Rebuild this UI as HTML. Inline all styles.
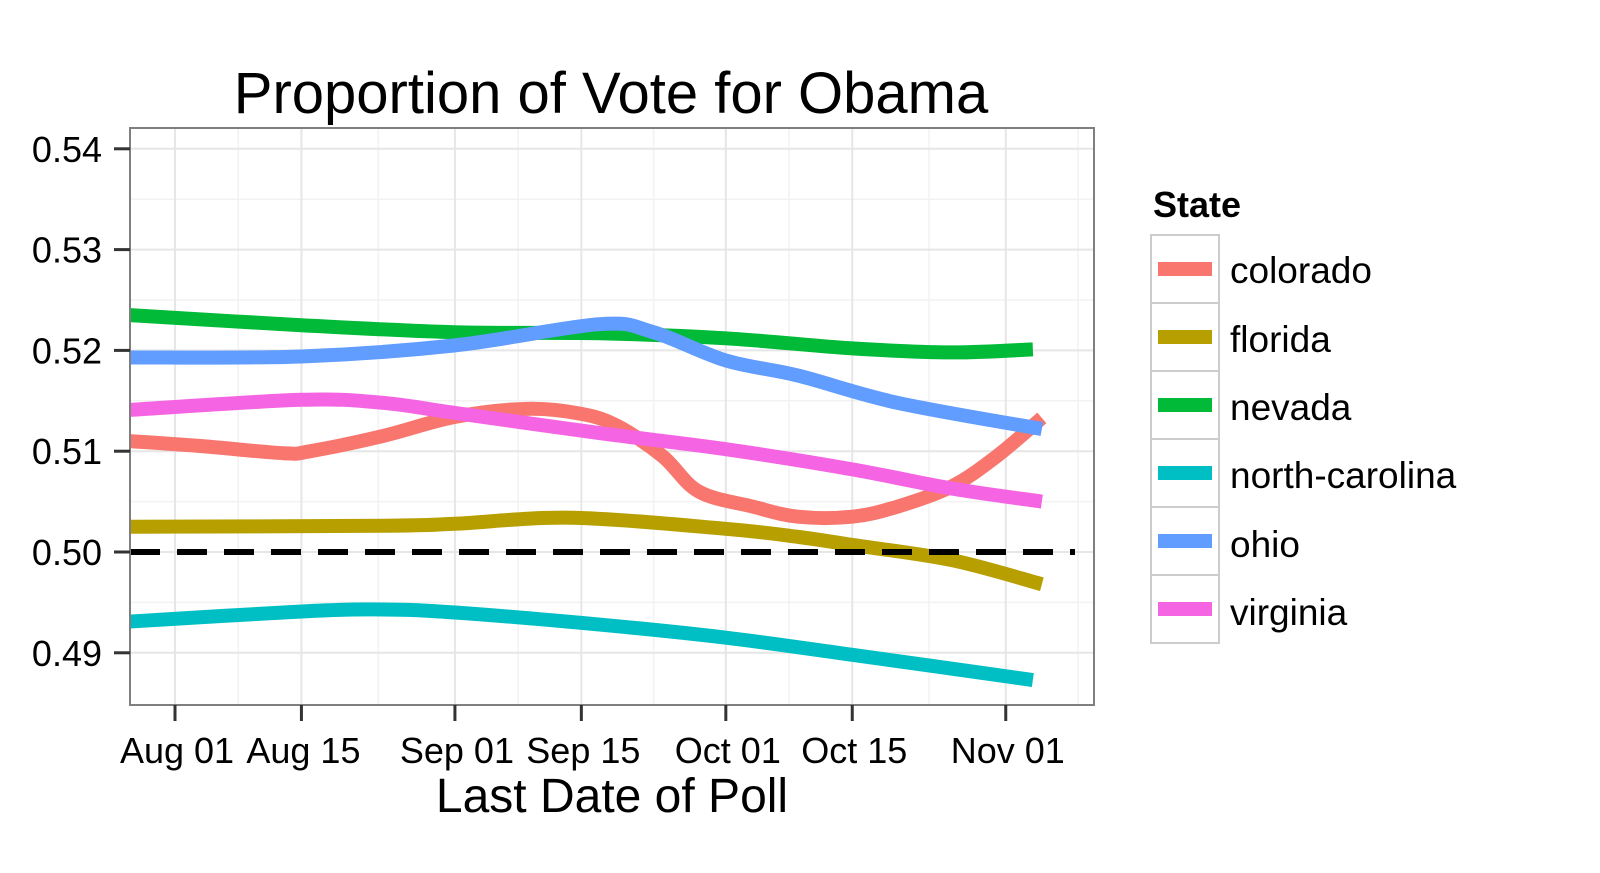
<!DOCTYPE html>
<html><head><meta charset="utf-8"><style>
body{margin:0;background:#fff;}
svg{display:block;font-family:"Liberation Sans",Arial,sans-serif;}
</style></head><body>
<svg id="chart" width="1600" height="873"></svg>
<script>
const tickDays=[0,14,31,45,61,75,92];
const tickLabels=["Aug 01","Aug 15","Sep 01","Sep 15","Oct 01","Oct 15","Nov 01"];
const yTicks=[0.49,0.50,0.51,0.52,0.53,0.54];
const seriesNames=["colorado","florida","nevada","north-carolina","ohio","virginia"];
const seriesColors=["#F8766D","#B79F00","#00BA38","#00BFC4","#619CFF","#F564E3"];
const coloradoDays=[-5,3,12,15,23,31,39,45,49,54,58,64,69,75,80,86,91,96];
const coloradoVals=[0.511,0.5105,0.5098,0.510,0.5115,0.5134,0.5142,0.5137,0.5125,0.5095,0.506,0.5045,0.5035,0.5035,0.5045,0.5065,0.5095,0.5133];
const floridaDays=[-5,23,31,44,61,69,75,86,96];
const floridaVals=[0.5025,0.5026,0.5028,0.5034,0.5023,0.5015,0.5007,0.4992,0.4968];
const nevadaDays=[-5,14,31,47,61,75,86,95];
const nevadaVals=[0.5235,0.5225,0.5218,0.5217,0.5212,0.5202,0.5198,0.5201];
const ncDays=[-5,14,23,31,47,61,75,95];
const ncVals=[0.4931,0.4941,0.4943,0.494,0.4928,0.4915,0.4898,0.4873];
const ohioDays=[-5,14,31,47,53,61,69,80,96];
const ohioVals=[0.5193,0.5194,0.5205,0.5226,0.5218,0.519,0.5175,0.5148,0.5122];
const virginiaDays=[-5,14,23,31,47,61,75,86,96];
const virginiaVals=[0.5141,0.5151,0.5148,0.5138,0.5118,0.5102,0.5082,0.5063,0.505];
const allDays=[coloradoDays,floridaDays,nevadaDays,ncDays,ohioDays,virginiaDays];
const allVals=[coloradoVals,floridaVals,nevadaVals,ncVals,ohioVals,virginiaVals];

const NS="http://www.w3.org/2000/svg";
const svg=document.getElementById('chart');
const L=130,R=1094,T=128,B=705;
const xS=d=>175+d*9.03;
const yS=v=>552-(v-0.50)*10080;
function mk(tag,attrs,parent){const e=document.createElementNS(NS,tag);for(const k in attrs)e.setAttribute(k,attrs[k]);(parent||svg).appendChild(e);return e;}

mk('rect',{x:L,y:T,width:R-L,height:B-T,fill:'#fff'});
for(let i=0;i<yTicks.length;i++){const v=yTicks[i]+0.005;if(yS(v)>T&&yS(v)<B){mk('line',{x1:L,x2:R,y1:yS(v),y2:yS(v),stroke:'#f2f2f2','stroke-width':1.5});}}
for(let i=0;i<tickDays.length-1;i++){const d=(tickDays[i]+tickDays[i+1])/2;mk('line',{x1:xS(d),x2:xS(d),y1:T,y2:B,stroke:'#f2f2f2','stroke-width':1.5});}
mk('line',{x1:xS(tickDays[6]+8),x2:xS(tickDays[6]+8),y1:T,y2:B,stroke:'#f2f2f2','stroke-width':1.5});
mk('line',{x1:xS(-5),x2:xS(-5),y1:T,y2:B,stroke:'#f2f2f2','stroke-width':1.5});
yTicks.forEach(v=>{mk('line',{x1:L,x2:R,y1:yS(v),y2:yS(v),stroke:'#e6e6e6','stroke-width':2});});
tickDays.forEach(d=>{mk('line',{x1:xS(d),x2:xS(d),y1:T,y2:B,stroke:'#e6e6e6','stroke-width':2});});

for(let s=0;s<seriesNames.length;s++){
  const pts=allDays[s].map((d,i)=>[xS(d),yS(allVals[s][i])]);
  let p='M'+pts[0][0]+','+pts[0][1];
  for(let i=0;i<pts.length-1;i++){
    const p0=pts[Math.max(0,i-1)],p1=pts[i],p2=pts[i+1],p3=pts[Math.min(pts.length-1,i+2)];
    const c1=[p1[0]+(p2[0]-p0[0])/6,p1[1]+(p2[1]-p0[1])/6];
    const c2=[p2[0]-(p3[0]-p1[0])/6,p2[1]-(p3[1]-p1[1])/6];
    p+=' C'+c1+' '+c2+' '+p2;
  }
  const path=mk('path',{d:p,fill:'none',stroke:seriesColors[s],'stroke-width':14});
  
  
}
const ref=mk('line',{x1:L,x2:1075,y1:yS(0.50),y2:yS(0.50),stroke:'#000','stroke-width':6,'stroke-dasharray':'30 17'});



mk('rect',{x:L,y:T,width:R-L,height:B-T,fill:'none',stroke:'#7f7f7f','stroke-width':2});

yTicks.forEach(v=>{
  mk('line',{x1:L-16,x2:L,y1:yS(v),y2:yS(v),stroke:'#333','stroke-width':3});
  const t=mk('text',{x:L-28,y:yS(v)+13,'text-anchor':'end','font-size':36,fill:'#000'});
  t.textContent=v.toFixed(2);
  
  
});
tickDays.forEach((d,i)=>{
  mk('line',{x1:xS(d),x2:xS(d),y1:B,y2:B+16,stroke:'#333','stroke-width':3});
  const t=mk('text',{x:xS(d)+2,y:763,'text-anchor':'middle','font-size':36,fill:'#000'});
  t.textContent=tickLabels[i];
  
  
});
</script>
<svg style="position:absolute;left:0;top:0" width="1600" height="873">
<text x="611" y="113" text-anchor="middle" font-size="58" font-family="Liberation Sans, sans-serif">Proportion of Vote for Obama</text>
<text x="612" y="812" text-anchor="middle" font-size="48" font-family="Liberation Sans, sans-serif">Last Date of Poll</text>
<g font-family="Liberation Sans, sans-serif" font-size="37">
<text x="1153" y="217" font-weight="bold" font-size="36">State</text>
<g><rect x="1151" y="235" width="68" height="68" fill="#fff" stroke="#ccc" stroke-width="2"/><line x1="1158" x2="1212" y1="269" y2="269" stroke="#F8766D" stroke-width="14"/><text x="1230" y="283">colorado</text></g>
<g><rect x="1151" y="303" width="68" height="68" fill="#fff" stroke="#ccc" stroke-width="2"/><line x1="1158" x2="1212" y1="337" y2="337" stroke="#B79F00" stroke-width="14"/><text x="1230" y="352">florida</text></g>
<g><rect x="1151" y="371" width="68" height="68" fill="#fff" stroke="#ccc" stroke-width="2"/><line x1="1158" x2="1212" y1="405" y2="405" stroke="#00BA38" stroke-width="14"/><text x="1230" y="420">nevada</text></g>
<g><rect x="1151" y="439" width="68" height="68" fill="#fff" stroke="#ccc" stroke-width="2"/><line x1="1158" x2="1212" y1="473" y2="473" stroke="#00BFC4" stroke-width="14"/><text x="1230" y="488">north-carolina</text></g>
<g><rect x="1151" y="507" width="68" height="68" fill="#fff" stroke="#ccc" stroke-width="2"/><line x1="1158" x2="1212" y1="541" y2="541" stroke="#619CFF" stroke-width="14"/><text x="1230" y="557">ohio</text></g>
<g><rect x="1151" y="575" width="68" height="68" fill="#fff" stroke="#ccc" stroke-width="2"/><line x1="1158" x2="1212" y1="609" y2="609" stroke="#F564E3" stroke-width="14"/><text x="1230" y="625">virginia</text></g>
</g>
</svg>
</body></html>
